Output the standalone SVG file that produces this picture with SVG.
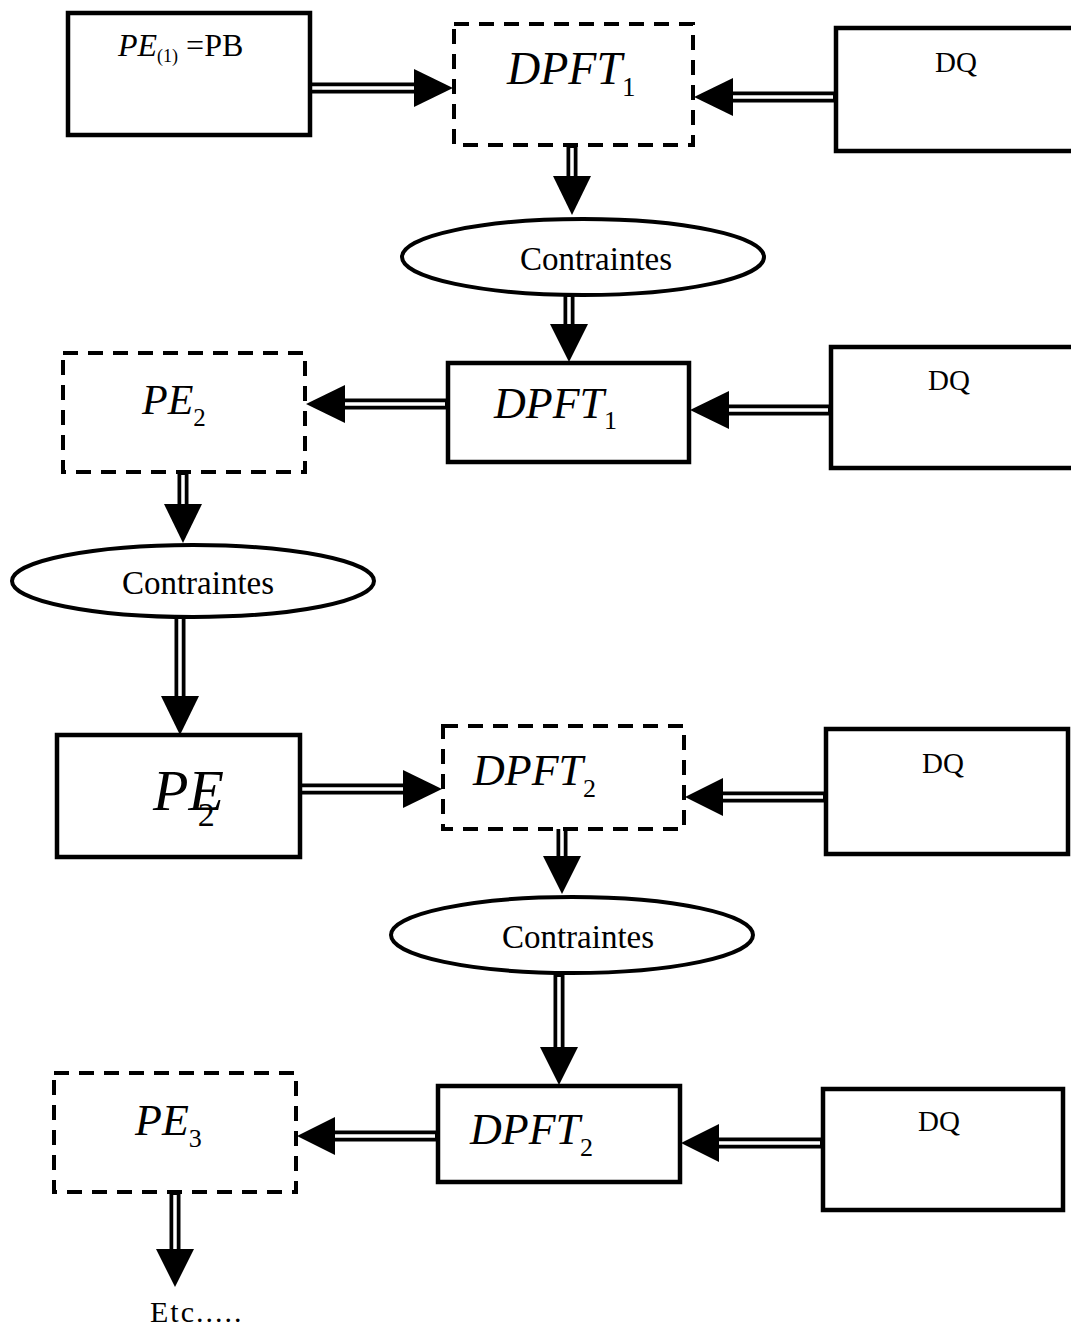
<svg xmlns="http://www.w3.org/2000/svg" width="1071" height="1329" viewBox="0 0 1071 1329">
  <style>
    .box { fill: #ffffff; stroke: #000; stroke-width: 4.5; }
    .dash { fill: #ffffff; stroke: #000; stroke-width: 4; stroke-dasharray: 15 10; }
    .ell { fill: #ffffff; stroke: #000; stroke-width: 4; }
    .txt { font-family: "Liberation Serif", "Times New Roman", serif; fill: #000; }
    .it { font-style: italic; }
    .shaft { stroke: #000; stroke-width: 11; fill: none; }
    .gap { stroke: #ffffff; stroke-width: 3.5; fill: none; }
    .head { fill: #000; }
  </style>
  <rect width="1071" height="1329" fill="#ffffff"/>

  <!-- connectors: double-shaft arrows -->
  <g id="connectors">
    <!-- PE(1) -> DPFT1 -->
    <path class="shaft" d="M310 88 H418"/><path class="gap" d="M312 88 H420"/>
    <polygon class="head" points="414,69 453,88 414,107"/>
    <!-- DQ -> DPFT1 -->
    <path class="shaft" d="M835 97 H728"/><path class="gap" d="M833 97 H726"/>
    <polygon class="head" points="733,78 694,97 733,116"/>
    <!-- DPFT1 -> Contraintes -->
    <path class="shaft" d="M572 146 V180"/><path class="gap" d="M572 148 V182"/>
    <polygon class="head" points="553,176 572,215 591,176"/>
    <!-- Contraintes -> DPFT1 -->
    <path class="shaft" d="M569 295 V328"/><path class="gap" d="M569 297 V330"/>
    <polygon class="head" points="550,324 569,362 588,324"/>
    <!-- DQ -> DPFT1 (row 2) -->
    <path class="shaft" d="M830 410 H724"/><path class="gap" d="M828 410 H722"/>
    <polygon class="head" points="729,391 690,410 729,429"/>
    <!-- DPFT1 -> PE2 -->
    <path class="shaft" d="M447 404 H340"/><path class="gap" d="M445 404 H338"/>
    <polygon class="head" points="345,385 306,404 345,423"/>
    <!-- PE2 -> Contraintes -->
    <path class="shaft" d="M183 473 V508"/><path class="gap" d="M183 475 V510"/>
    <polygon class="head" points="164,504 183,543 202,504"/>
    <!-- Contraintes -> PE -->
    <path class="shaft" d="M180 617 V700"/><path class="gap" d="M180 619 V702"/>
    <polygon class="head" points="161,696 180,735 199,696"/>
    <!-- PE -> DPFT2 -->
    <path class="shaft" d="M300 789 H406"/><path class="gap" d="M302 789 H408"/>
    <polygon class="head" points="403,770 442,789 403,808"/>
    <!-- DQ -> DPFT2 -->
    <path class="shaft" d="M825 797 H718"/><path class="gap" d="M823 797 H716"/>
    <polygon class="head" points="723,778 685,797 723,816"/>
    <!-- DPFT2 -> Contraintes -->
    <path class="shaft" d="M562 822 V860"/><path class="gap" d="M562 824 V862"/>
    <polygon class="head" points="543,856 562,894 581,856"/>
    <!-- Contraintes -> DPFT2 -->
    <path class="shaft" d="M559 975 V1050"/><path class="gap" d="M559 977 V1052"/>
    <polygon class="head" points="540,1047 559,1085 578,1047"/>
    <!-- DQ -> DPFT2 (row 4) -->
    <path class="shaft" d="M822 1143 H714"/><path class="gap" d="M820 1143 H712"/>
    <polygon class="head" points="719,1124 681,1143 719,1162"/>
    <!-- DPFT2 -> PE3 -->
    <path class="shaft" d="M437 1136 H330"/><path class="gap" d="M435 1136 H328"/>
    <polygon class="head" points="335,1117 297,1136 335,1155"/>
    <!-- PE3 -> Etc -->
    <path class="shaft" d="M175 1193 V1252"/><path class="gap" d="M175 1195 V1254"/>
    <polygon class="head" points="156,1249 175,1287 194,1249"/>
  </g>

  <!-- row 1 -->
  <g id="pe1">
    <rect class="box" x="68" y="13" width="242" height="122"/>
    <text class="txt" x="118" y="56" font-size="32"><tspan class="it">PE</tspan><tspan font-size="18" dy="6">(1)</tspan><tspan dy="-6"> =PB</tspan></text>
  </g>
  <g id="dpft1a">
    <rect class="dash" x="454" y="24" width="239" height="121"/>
    <text class="txt it" x="507" y="84" font-size="46">DPFT<tspan font-style="normal" font-size="27" dy="12">1</tspan></text>
  </g>
  <g id="dq1">
    <rect class="box" x="836" y="28" width="245" height="123"/>
    <text class="txt" x="935" y="72" font-size="29">DQ</text>
  </g>
  <g id="contraintes1">
    <ellipse class="ell" cx="583" cy="257" rx="181" ry="38"/>
    <text class="txt" x="596" y="270" font-size="33" text-anchor="middle">Contraintes</text>
  </g>

  <!-- row 2 -->
  <g id="pe2a">
    <rect class="dash" x="63" y="353" width="242" height="119"/>
    <text class="txt it" x="142" y="414" font-size="42">PE<tspan font-style="normal" font-size="25" dy="12">2</tspan></text>
  </g>
  <g id="dpft1b">
    <rect class="box" x="448" y="363" width="241" height="99"/>
    <text class="txt it" x="494" y="418" font-size="44">DPFT<tspan font-style="normal" font-size="26" dy="11">1</tspan></text>
  </g>
  <g id="dq2">
    <rect class="box" x="831" y="347" width="245" height="121"/>
    <text class="txt" x="928" y="390" font-size="29">DQ</text>
  </g>
  <g id="contraintes2">
    <ellipse class="ell" cx="193" cy="581" rx="181" ry="36"/>
    <text class="txt" x="198" y="594" font-size="33" text-anchor="middle">Contraintes</text>
  </g>

  <!-- row 3 -->
  <g id="pe2b">
    <rect class="box" x="57" y="735" width="243" height="122"/>
    <!-- subscript sits over the E, as printed -->
    <text class="txt it" x="153" y="810" font-size="58">PE<tspan font-style="normal" font-size="34" dx="-26" dy="16">2</tspan></text>
  </g>
  <g id="dpft2a">
    <rect class="dash" x="443" y="726" width="241" height="103"/>
    <text class="txt it" x="473" y="785" font-size="44">DPFT<tspan font-style="normal" font-size="26" dy="12">2</tspan></text>
  </g>
  <g id="dq3">
    <rect class="box" x="826" y="729" width="242" height="125"/>
    <text class="txt" x="922" y="773" font-size="29">DQ</text>
  </g>
  <g id="contraintes3">
    <ellipse class="ell" cx="572" cy="935" rx="181" ry="38"/>
    <text class="txt" x="578" y="948" font-size="33" text-anchor="middle">Contraintes</text>
  </g>

  <!-- row 4 -->
  <g id="pe3">
    <rect class="dash" x="54" y="1073" width="242" height="119"/>
    <text class="txt it" x="135" y="1135" font-size="44">PE<tspan font-style="normal" font-size="26" dy="12">3</tspan></text>
  </g>
  <g id="dpft2b">
    <rect class="box" x="438" y="1086" width="242" height="96"/>
    <text class="txt it" x="470" y="1144" font-size="44">DPFT<tspan font-style="normal" font-size="26" dy="12">2</tspan></text>
  </g>
  <g id="dq4">
    <rect class="box" x="823" y="1089" width="240" height="121"/>
    <text class="txt" x="918" y="1131" font-size="29">DQ</text>
  </g>
  <g id="etc">
    <text class="txt" x="150" y="1322" font-size="30" letter-spacing="2">Etc.....</text>
  </g>
</svg>
